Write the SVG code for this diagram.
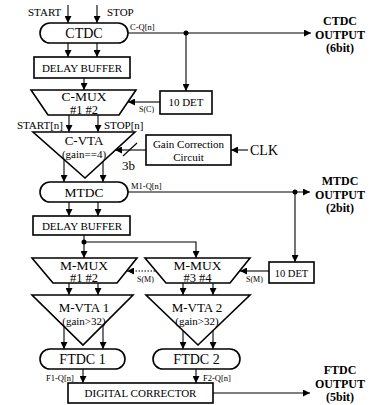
<svg xmlns="http://www.w3.org/2000/svg" width="371" height="405" viewBox="0 0 371 405" font-family="'Liberation Serif', 'Times New Roman', Times, serif">
<defs>
<marker id="ah" viewBox="0 0 10 10" refX="10" refY="5" markerWidth="7" markerHeight="7" markerUnits="userSpaceOnUse" orient="auto">
<path d="M0,0 L10,5 L0,10 Z" fill="#000"/>
</marker>
</defs>
<style>
text{font-family:"Liberation Serif","Times New Roman",Times,serif;fill:#000}
.c{text-anchor:middle}
.b{font-weight:bold;font-size:12px;text-anchor:middle}
.box{fill:#fff;stroke:#000;stroke-width:1.6}
.ln{fill:none;stroke:#000;stroke-width:1.1}
.ar{fill:none;stroke:#000;stroke-width:1.1;marker-end:url(#ah)}
.dt{fill:none;stroke:#000;stroke-width:1.1;stroke-dasharray:1.5 1.5;marker-end:url(#ah)}
.s{font-size:8.5px}
</style>
<rect width="371" height="405" fill="#fff"/>
<g id="connectors">
<path class="ar" d="M68,5 V23"/>
<path class="ar" d="M97,5 V23"/>
<path class="ar" d="M128,33 H311"/>
<path class="ar" d="M186,33 V91"/>
<path class="ar" d="M68,43 V57"/>
<path class="ar" d="M97,43 V57"/>
<path class="ar" d="M84,78 V90"/>
<path class="ar" d="M160,102 H128"/>
<path class="ar" d="M69,115 V132"/>
<path class="ar" d="M98,115 V132"/>
<path class="ar" d="M146,150 H115"/>
<path class="ln" d="M123,156 L137,143"/>
<path class="ar" d="M248,150 H231"/>
<path class="ar" d="M64,159.5 V182"/>
<path class="ar" d="M103,161.5 V182"/>
<path class="ar" d="M128,192 H310"/>
<path class="ar" d="M295,192 V262"/>
<path class="ar" d="M69,202 V216"/>
<path class="ar" d="M98,202 V216"/>
<path class="ar" d="M84,235 V258"/>
<path class="ar" d="M84,242 H196 V258"/>
<path class="ar" d="M269,271 H240"/>
<path class="dt" d="M155,271 H127"/>
<path class="ar" d="M69,283 V295"/>
<path class="ar" d="M98,283 V295"/>
<path class="ar" d="M183,283 V295"/>
<path class="ar" d="M213,283 V295"/>
<path class="ar" d="M64,326.5 V349"/>
<path class="ar" d="M103,325 V349"/>
<path class="ar" d="M183,330.5 V349"/>
<path class="ar" d="M213,330.5 V349"/>
<path class="ar" d="M83,369 V383"/>
<path class="ar" d="M196,369 V383"/>
<path class="ar" d="M213,393 H310"/>
<circle cx="186" cy="33" r="2.5" fill="#000"/>
<circle cx="295" cy="192" r="2.5" fill="#000"/>
<circle cx="84" cy="242" r="2.5" fill="#000"/>
<text x="28" y="16" style="font-size:11px">START</text>
<text x="107" y="16" style="font-size:11px">STOP</text>
<text x="130" y="30" class="s">C-Q[n]</text>
<text x="139" y="112" style="font-size:8px">S(C)</text>
<text x="63" y="129" style="font-size:11px;text-anchor:end">START[n]</text>
<text x="104" y="129" style="font-size:11px">STOP[n]</text>
<text x="122" y="170" style="font-size:13px">3b</text>
<text x="250" y="155" style="font-size:14px">CLK</text>
<text x="131" y="189" class="s">M1-Q[n]</text>
<text x="137" y="282" style="font-size:8px">S(M)</text>
<text x="246" y="282" style="font-size:8px">S(M)</text>
<text x="46" y="381" class="s">F1-Q[n]</text>
<text x="203" y="381" class="s">F2-Q[n]</text>
</g>
<g id="ctdc">
<rect class="box" x="40" y="23" width="88" height="20" rx="10"/>
<text x="84" y="38" class="c" style="font-size:14px">CTDC</text>
</g>
<g id="delay1">
<rect class="box" x="34" y="57" width="96" height="21"/>
<text x="82" y="71.5" class="c" style="font-size:11px">DELAY BUFFER</text>
</g>
<g id="cmux">
<polygon class="box" points="31,90 136,90 119,115 48,115"/>
<text x="84" y="101" class="c" style="font-size:13.5px">C-MUX</text>
<text x="84" y="114" class="c" style="font-size:12.5px">#1 #2</text>
</g>
<g id="det1">
<rect class="box" x="160" y="91" width="52" height="23"/>
<text x="186" y="106" class="c" style="font-size:11px">10 DET</text>
</g>
<g id="cvta">
<polygon class="box" points="33,132 135,132 85,178"/>
<text x="84" y="144.5" class="c" style="font-size:13px">C-VTA</text>
<text x="84" y="158" class="c" style="font-size:11px">(gain==4)</text>
</g>
<g id="gain">
<rect class="box" x="146" y="135" width="85" height="30"/>
<text x="188.5" y="148" class="c" style="font-size:11px">Gain Correction</text>
<text x="188.5" y="161" class="c" style="font-size:11px">Circuit</text>
</g>
<g id="ctdc-out">
<text x="340" y="25" class="b">CTDC</text>
<text x="340" y="38.5" class="b">OUTPUT</text>
<text x="340" y="52" class="b">(6bit)</text>
</g>
<g id="mtdc">
<rect class="box" x="40" y="182" width="88" height="20" rx="10"/>
<text x="84" y="197" class="c" style="font-size:13.5px">MTDC</text>
</g>
<g id="mtdc-out">
<text x="340" y="185" class="b">MTDC</text>
<text x="340" y="198.5" class="b">OUTPUT</text>
<text x="340" y="212" class="b">(2bit)</text>
</g>
<g id="delay2">
<rect class="box" x="33" y="216" width="97" height="19"/>
<text x="82" y="229.5" class="c" style="font-size:11px">DELAY BUFFER</text>
</g>
<g id="mmux1">
<polygon class="box" points="32,258 137,258 117,283 53,283"/>
<text x="84" y="269.5" class="c" style="font-size:13.5px">M-MUX</text>
<text x="84" y="282" class="c" style="font-size:12.5px">#1 #2</text>
</g>
<g id="mmux2">
<polygon class="box" points="145,258 250,258 230,283 166,283"/>
<text x="197.5" y="269.5" class="c" style="font-size:13.5px">M-MUX</text>
<text x="197.5" y="282" class="c" style="font-size:12.5px">#3 #4</text>
</g>
<g id="det2">
<rect class="box" x="269" y="262" width="45" height="21"/>
<text x="291.5" y="276.5" class="c" style="font-size:10.5px">10 DET</text>
</g>
<g id="mvta1">
<polygon class="box" points="32,295 133,295 83,345"/>
<text x="84" y="311.5" class="c" style="font-size:13px">M-VTA 1</text>
<text x="84" y="325" class="c" style="font-size:11px">(gain&gt;32)</text>
</g>
<g id="mvta2">
<polygon class="box" points="146,295 250,295 198,345"/>
<text x="197" y="311.5" class="c" style="font-size:13px">M-VTA 2</text>
<text x="197" y="325" class="c" style="font-size:11px">(gain&gt;32)</text>
</g>
<g id="ftdc1">
<rect class="box" x="40" y="349" width="85" height="20" rx="10"/>
<text x="82.5" y="364" class="c" style="font-size:14px">FTDC 1</text>
</g>
<g id="ftdc2">
<rect class="box" x="153" y="349" width="87" height="20" rx="10"/>
<text x="196.5" y="364" class="c" style="font-size:14px">FTDC 2</text>
</g>
<g id="corrector">
<rect class="box" x="68" y="383" width="145" height="20"/>
<text x="140.5" y="397" class="c" style="font-size:11px">DIGITAL CORRECTOR</text>
</g>
<g id="ftdc-out">
<text x="340" y="374" class="b">FTDC</text>
<text x="340" y="387.5" class="b">OUTPUT</text>
<text x="340" y="401" class="b">(5bit)</text>
</g>
</svg>
